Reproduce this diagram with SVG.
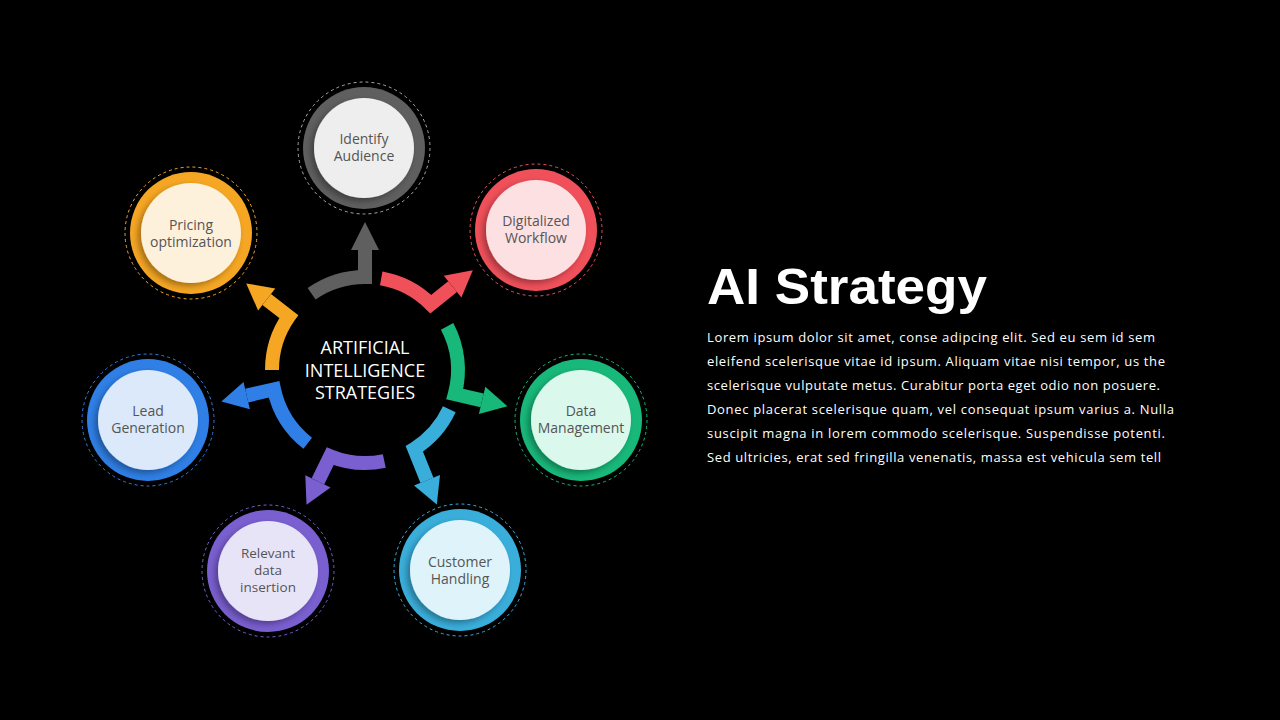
<svg xmlns="http://www.w3.org/2000/svg" width="1280" height="720" viewBox="0 0 1280 720">
<style>
.seg{fill:none;stroke-width:14;stroke-linejoin:miter}
.lbl{font-family:"Open Sans","Noto Sans",sans-serif;font-size:14px;fill:#555;text-anchor:middle}
.lbl3{font-family:"Open Sans","Noto Sans",sans-serif;font-size:13.5px;fill:#555;text-anchor:middle}
.dash{fill:none;stroke-width:1;stroke-dasharray:3 3}
.para{font-family:"Open Sans","Noto Sans",sans-serif;font-size:13px;fill:#fff}
</style>
<defs>
<filter id="sh" x="-30%" y="-30%" width="160%" height="160%"><feDropShadow dx="-3" dy="3" stdDeviation="3" flood-color="#000" flood-opacity="0.35"/></filter>
</defs>
<rect width="1280" height="720" fill="#000"/>
<g id="connectors">
<path class="seg" stroke="#5f5f5f" d="M311.6,293.8 A93,93 0 0 1 365,277 L365,250"/><polygon fill="#5f5f5f" points="351,250 379,250 365,222"/>
<path class="seg" stroke="#f0505a" d="M381.2,278.4 A93,93 0 0 1 430.8,304.2 L452.6,286.6"/><polygon fill="#f0505a" points="461.4,297.5 443.8,275.7 472.8,270.2"/>
<path class="seg" stroke="#18b87a" d="M447.1,326.4 A93,93 0 0 1 454.8,394.1 L482.1,400.4"/><polygon fill="#18b87a" points="478.9,414 485.3,386.8 507.4,406.3"/>
<path class="seg" stroke="#3aaedb" d="M449.3,409.3 A93,93 0 0 1 414.3,448.9 L427,480.4"/><polygon fill="#3aaedb" points="414,485.6 440,475.1 436.8,504.5"/>
<path class="seg" stroke="#7a5fd0" d="M384.3,461 A93,93 0 0 1 330.2,456.2 L317.9,481.4"/><polygon fill="#7a5fd0" points="305.3,475.3 330.5,487.5 306.5,504.8"/>
<path class="seg" stroke="#2f7fe6" d="M307.7,443.3 A93,93 0 0 1 274,389.3 L246.7,395.6"/><polygon fill="#2f7fe6" points="243.5,382 249.9,409.2 221.4,401.4"/>
<path class="seg" stroke="#f5a623" d="M272,370 A93,93 0 0 1 288.8,316.6 L266.7,299.4"/><polygon fill="#f5a623" points="275.3,288.4 258.1,310.4 246.2,283.4"/>
</g>
<g id="center">
<text x="365" y="354" font-family="Open Sans, Noto Sans, sans-serif" font-size="18" fill="#fff" text-anchor="middle">ARTIFICIAL</text>
<text x="365" y="377" font-family="Open Sans, Noto Sans, sans-serif" font-size="18" fill="#fff" text-anchor="middle">INTELLIGENCE</text>
<text x="365" y="399" font-family="Open Sans, Noto Sans, sans-serif" font-size="18" fill="#fff" text-anchor="middle">STRATEGIES</text>
</g>
<g id="n-identify"><circle class="dash" cx="364" cy="148" r="66" stroke="#aaa"/><circle cx="364" cy="148" r="61" fill="#5f5f5f"/><circle cx="364" cy="148" r="50" fill="#eeeeee" filter="url(#sh)"/><text class="lbl" x="364" y="144">Identify</text><text class="lbl" x="364" y="161">Audience</text></g>
<g id="n-digital"><circle class="dash" cx="536" cy="230" r="66" stroke="#f0505a"/><circle cx="536" cy="230" r="61" fill="#f0505a"/><circle cx="536" cy="230" r="50" fill="#fde0e2" filter="url(#sh)"/><text class="lbl" x="536" y="226">Digitalized</text><text class="lbl" x="536" y="243">Workflow</text></g>
<g id="n-data"><circle class="dash" cx="581" cy="420" r="66" stroke="#18b87a"/><circle cx="581" cy="420" r="61" fill="#18b87a"/><circle cx="581" cy="420" r="50" fill="#dbf8ec" filter="url(#sh)"/><text class="lbl" x="581" y="416">Data</text><text class="lbl" x="581" y="433">Management</text></g>
<g id="n-customer"><circle class="dash" cx="460" cy="570" r="66" stroke="#3aaedb"/><circle cx="460" cy="570" r="61" fill="#3aaedb"/><circle cx="460" cy="570" r="50" fill="#dff3fb" filter="url(#sh)"/><text class="lbl" x="460" y="567">Customer</text><text class="lbl" x="460" y="584">Handling</text></g>
<g id="n-relevant"><circle class="dash" cx="268" cy="571" r="66" stroke="#7a5fd0"/><circle cx="268" cy="571" r="61" fill="#7a5fd0"/><circle cx="268" cy="571" r="50" fill="#e8e4f7" filter="url(#sh)"/><text class="lbl3" x="268" y="558">Relevant</text><text class="lbl3" x="268" y="575">data</text><text class="lbl3" x="268" y="592">insertion</text></g>
<g id="n-lead"><circle class="dash" cx="148" cy="420" r="66" stroke="#2f7fe6"/><circle cx="148" cy="420" r="61" fill="#2f7fe6"/><circle cx="148" cy="420" r="50" fill="#dbe9fb" filter="url(#sh)"/><text class="lbl" x="148" y="416">Lead</text><text class="lbl" x="148" y="433">Generation</text></g>
<g id="n-pricing"><circle class="dash" cx="191" cy="233" r="66" stroke="#f5a623"/><circle cx="191" cy="233" r="61" fill="#f5a623"/><circle cx="191" cy="233" r="50" fill="#fdf1dc" filter="url(#sh)"/><text class="lbl" x="191" y="230">Pricing</text><text class="lbl" x="191" y="247">optimization</text></g>
<g id="text">
<text x="707" y="304" font-family="Liberation Sans, Arial, sans-serif" font-weight="bold" font-size="50" fill="#fff" textLength="280" lengthAdjust="spacingAndGlyphs">AI Strategy</text>
<text class="para" x="707" y="342" textLength="448" lengthAdjust="spacing">Lorem ipsum dolor sit amet, conse adipcing elit. Sed eu sem id sem</text>
<text class="para" x="707" y="366" textLength="458" lengthAdjust="spacing">eleifend scelerisque vitae id ipsum. Aliquam vitae nisi tempor, us the</text>
<text class="para" x="707" y="390" textLength="453" lengthAdjust="spacing">scelerisque vulputate metus. Curabitur porta eget odio non posuere.</text>
<text class="para" x="707" y="414" textLength="467" lengthAdjust="spacing">Donec placerat scelerisque quam, vel consequat ipsum varius a. Nulla</text>
<text class="para" x="707" y="438" textLength="458" lengthAdjust="spacing">suscipit magna in lorem commodo scelerisque. Suspendisse potenti.</text>
<text class="para" x="707" y="462" textLength="454" lengthAdjust="spacing">Sed ultricies, erat sed fringilla venenatis, massa est vehicula sem tell</text>
</g>
</svg>
